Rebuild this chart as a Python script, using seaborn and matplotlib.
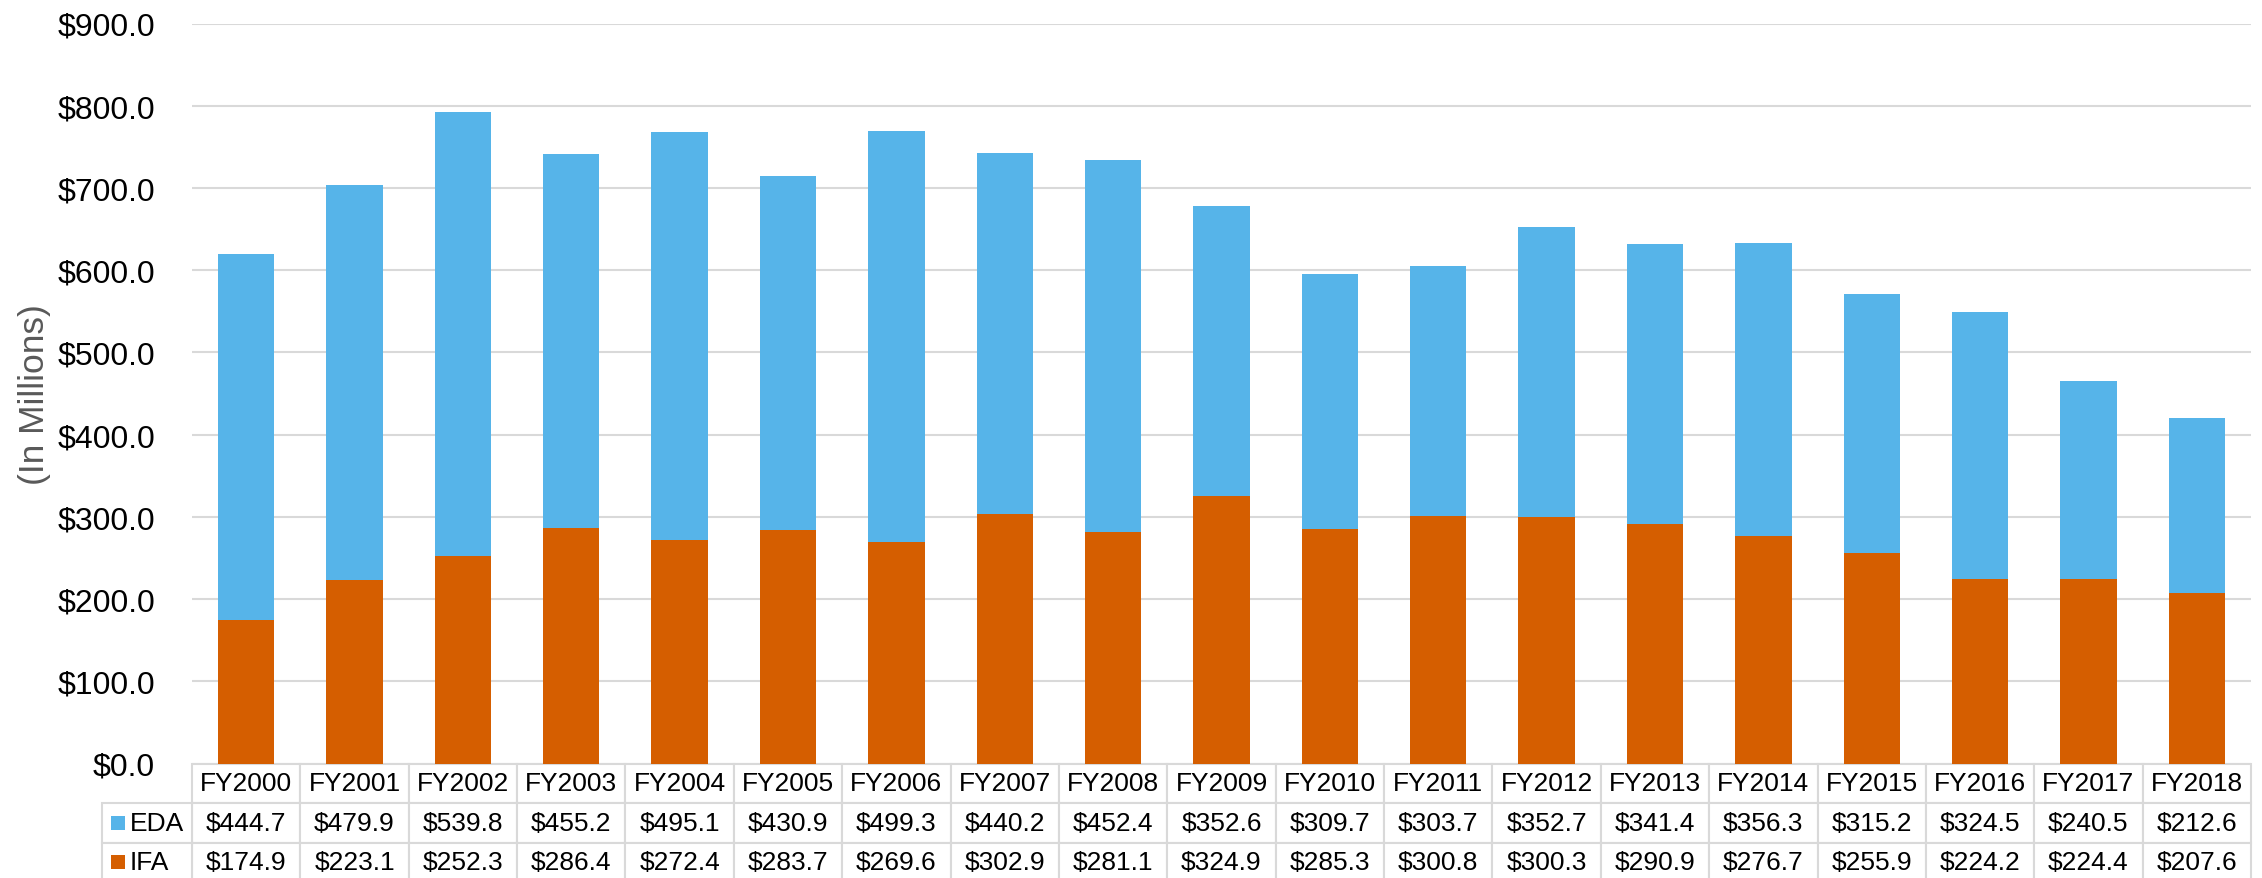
import matplotlib
matplotlib.use("Agg")
import matplotlib.pyplot as plt
from matplotlib.patches import Rectangle
import seaborn as sns
import pandas as pd

years = ["FY2000", "FY2001", "FY2002", "FY2003", "FY2004", "FY2005", "FY2006",
         "FY2007", "FY2008", "FY2009", "FY2010", "FY2011", "FY2012", "FY2013",
         "FY2014", "FY2015", "FY2016", "FY2017", "FY2018"]
eda = [444.7, 479.9, 539.8, 455.2, 495.1, 430.9, 499.3, 440.2, 452.4, 352.6,
       309.7, 303.7, 352.7, 341.4, 356.3, 315.2, 324.5, 240.5, 212.6]
ifa = [174.9, 223.1, 252.3, 286.4, 272.4, 283.7, 269.6, 302.9, 281.1, 324.9,
       285.3, 300.8, 300.3, 290.9, 276.7, 255.9, 224.2, 224.4, 207.6]
series_names = ["EDA", "IFA"]
yticks = [0, 100, 200, 300, 400, 500, 600, 700, 800, 900]

EDA_COLOR = "#56B4E9"
IFA_COLOR = "#D55E00"
GRID = "#D9D9D9"

df = pd.DataFrame({"year": years, "EDA": eda, "IFA": ifa})
df["total"] = df["EDA"] + df["IFA"]

sns.set_theme(style="white")
plt.rcParams["font.family"] = ["Liberation Sans", "DejaVu Sans"]

W, H = 2262, 879
AX_L, AX_R, AX_T, AX_B = 192, 2251, 24.5, 764.5
AW, AH = AX_R - AX_L, AX_B - AX_T
fig = plt.figure(figsize=(W / 100, H / 100), dpi=100)
ax = fig.add_axes([AX_L / W, 1 - AX_B / H, AW / W, AH / H])

# Stacked columns: full total in blue, IFA drawn over the lower part
sns.barplot(data=df, x="year", y="total", color=EDA_COLOR, width=0.52,
            saturation=1, ax=ax, zorder=3, edgecolor="none")
sns.barplot(data=df, x="year", y="IFA", color=IFA_COLOR, width=0.52,
            saturation=1, ax=ax, zorder=3, edgecolor="none")

ax.set_ylim(0, 900)
ax.set_xlim(-0.5, len(years) - 0.5)
ax.set_yticks(yticks)
ax.set_yticklabels([f"${v:,.1f}" for v in yticks])
ax.tick_params(axis="y", labelsize=23, pad=26.5, length=0, colors="black")
ax.set_xticks([])
ax.set_xlabel("")
ax.set_ylabel("(In Millions)", fontsize=25.5, color="#595959")
ax.yaxis.set_label_coords((51 - AX_L) / AW, 0.5)
ax.grid(axis="y", color=GRID, linewidth=1.5, zorder=0)
for s in ax.spines.values():
    s.set_visible(False)

# Data table under the columns: values and year headers
ROW_H = 39.5
cell_text = [[f"${v:,.1f}" for v in eda], [f"${v:,.1f}" for v in ifa]]
tbl = ax.table(cellText=cell_text, colLabels=years, cellLoc="center",
               bbox=[0, -3 * ROW_H / AH, 1, 3 * ROW_H / AH])
# Row labels with colour keys
lbl = ax.table(cellText=[[n] for n in series_names], cellLoc="left",
               bbox=[(102 - AX_L) / AW, -3 * ROW_H / AH,
                     (AX_L - 102) / AW, 2 * ROW_H / AH])
for t in (tbl, lbl):
    t.auto_set_font_size(False)
    t.set_fontsize(19)
    for cell in t.get_celld().values():
        cell.set_edgecolor(GRID)
        cell.set_linewidth(1.5)
        cell.get_text().set_color("black")
for cell in lbl.get_celld().values():
    cell.PAD = 0.31

for yc, col in [(AX_B + 1.5 * ROW_H, EDA_COLOR), (AX_B + 2.5 * ROW_H, IFA_COLOR)]:
    fig.patches.append(Rectangle((111 / W, 1 - (yc + 7) / H), 14 / W, 14 / H,
                                 transform=fig.transFigure, facecolor=col,
                                 edgecolor="none"))

fig.savefig("out.png", dpi=100)
